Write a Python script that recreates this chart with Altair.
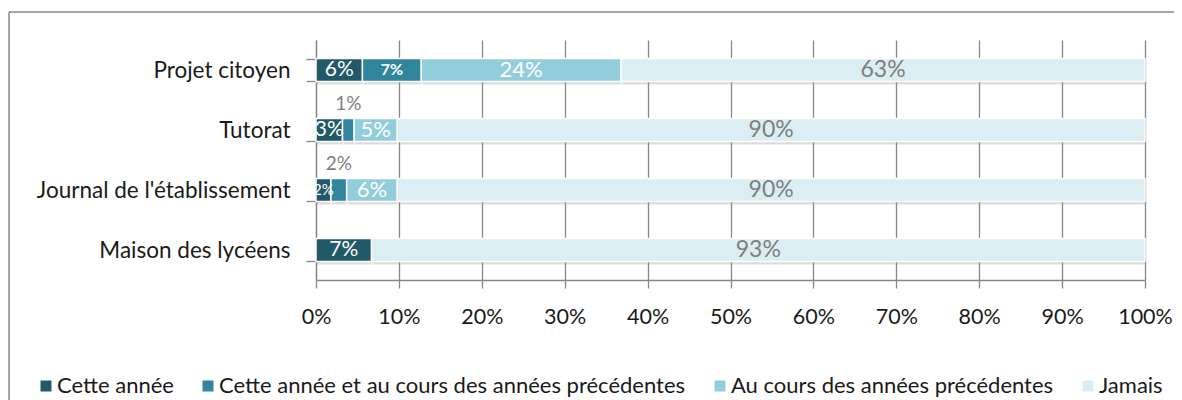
import altair as alt
import pandas as pd

categories = ["Projet citoyen", "Tutorat", "Journal de l'établissement", "Maison des lycéens"]
series = [
    "Cette année",
    "Cette année et au cours des années précédentes",
    "Au cours des années précédentes",
    "Jamais",
]
cette_annee = [5.6, 3.2, 1.8, 6.7]
cette_annee_et_prec = [7.1, 1.4, 1.9, 0.0]
annees_prec = [24.1, 5.2, 6.1, 0.0]
jamais = [63.2, 90.2, 90.2, 93.3]
x_ticks = [0, 10, 20, 30, 40, 50, 60, 70, 80, 90, 100]
colors = ["#215968", "#31859c", "#92cddc", "#dbeef3"]

rows = []
for si, (s, vals) in enumerate(zip(series, [cette_annee, cette_annee_et_prec, annees_prec, jamais])):
    for c, v in zip(categories, vals):
        rows.append({"cat": c, "series": s, "idx": si, "value": v})
df = pd.DataFrame(rows)

FONT = "Lato"
GRID = "#868686"

base = (
    alt.Chart(df)
    .transform_filter("datum.value > 0")
    .transform_stack(stack="value", groupby=["cat"], as_=["x0", "x1"], sort=[alt.SortField("idx")])
)

x_enc = alt.X(
    "x0:Q",
    scale=alt.Scale(domain=[0, 100], nice=False),
    axis=alt.Axis(
        values=x_ticks,
        labelExpr="datum.value + '%'",
        title=None,
        grid=True,
        gridColor=GRID,
        gridWidth=1.3,
        domainColor=GRID,
        domainWidth=1.3,
        tickColor=GRID,
        tickWidth=1.3,
        tickSize=8,
        labelFont=FONT,
        labelFontSize=21.5,
        labelColor="#1a1a1a",
        labelPadding=18,
        labelFlush=False,
    ),
)
y_enc = alt.Y(
    "cat:N",
    sort=categories,
    scale=alt.Scale(paddingInner=0.62, paddingOuter=0.31),
    axis=alt.Axis(
        title=None,
        grid=False,
        tickBand="extent",
        domainColor=GRID,
        domainWidth=1.3,
        tickColor=GRID,
        tickWidth=1.3,
        tickSize=10,
        labelFont=FONT,
        labelFontSize=22.5,
        labelColor="#1a1a1a",
        labelPadding=16,
        labelLimit=400,
    ),
)

shadow = base.mark_bar(color="#9a9a9a", opacity=0.35, yOffset=3, xOffset=1).encode(
    x=x_enc, x2="x1:Q", y=y_enc
)

bars = base.mark_bar(stroke="white", strokeWidth=1.5).encode(
    x=x_enc,
    x2="x1:Q",
    y=y_enc,
    color=alt.Color(
        "series:N",
        scale=alt.Scale(domain=series, range=colors),
        legend=alt.Legend(
            title=None,
            orient="none",
            legendX=-281,
            legendY=335,
            direction="horizontal",
            columns=4,
            symbolType="square",
            symbolSize=121,
            symbolStrokeWidth=0,
            labelFont=FONT,
            labelFontSize=22,
            labelColor="#1a1a1a",
            labelLimit=800,
            labelOffset=0,
            columnPadding=23,
            padding=0,
        ),
    ),
    order=alt.Order("idx:Q"),
)

labels_base = base.transform_calculate(
    mid="(datum.x0 + datum.x1) / 2",
    label="format(round(datum.value), 'd') + '%'",
    above="datum.idx == 1 && datum.value < 2.5",
    fs="datum.idx == 0 ? (datum.value < 2.5 ? 15 : 21) : datum.idx == 1 ? 17 : datum.idx == 2 ? 22 : 23",
    tc="datum.idx == 3 ? '#7f7f7f' : '#ffffff'",
)

x_mid = alt.X("mid:Q", scale=alt.Scale(domain=[0, 100], nice=False))
y_cat = alt.Y("cat:N", sort=categories)

inside = labels_base.transform_filter("!datum.above && datum.idx != 1").mark_text(
    font=FONT, baseline="middle", align="center"
).encode(
    x=x_mid,
    y=y_cat,
    text="label:N",
    size=alt.Size("fs:Q", scale=None),
    color=alt.Color("tc:N", scale=None),
)

inside_bold = labels_base.transform_filter("!datum.above && datum.idx == 1").mark_text(
    font=FONT, baseline="middle", align="center", fontWeight="bold", color="#ffffff", fontSize=16
).encode(x=x_mid, y=y_cat, text="label:N")

above = labels_base.transform_filter("datum.above").mark_text(
    font=FONT, baseline="middle", align="center", dy=-26, fontSize=19, color="#7f7f7f"
).encode(x=x_mid, y=y_cat, text="label:N")

one = pd.DataFrame({"k": [0]})
frame_top = alt.Chart(one).mark_rule(color=GRID, strokeWidth=1.5).encode(
    x=alt.value(-307), x2=alt.value(900), y=alt.value(-28)
)
frame_left = alt.Chart(one).mark_rule(color=GRID, strokeWidth=1.5).encode(
    x=alt.value(-307), y=alt.value(-28), y2=alt.value(400)
)

chart = (
    alt.layer(frame_top, frame_left, shadow, bars, inside, inside_bold, above)
    .properties(
        width=829,
        height=240,
        padding={"left": 308, "top": 32, "right": 29, "bottom": 120},
        autosize=alt.AutoSizeParams(type="none"),
    )
    .configure_view(stroke=None)
)

chart.save("out.html", embed_options={"renderer": "svg", "actions": False})
